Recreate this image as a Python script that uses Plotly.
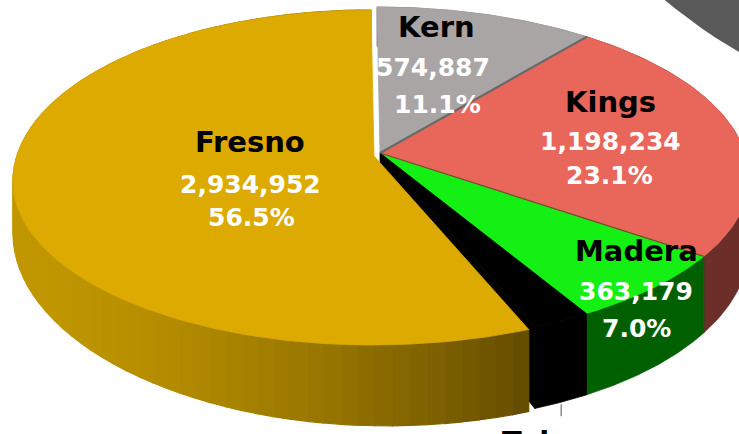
import numpy as np
import plotly.graph_objects as go

# ---------------- data ----------------
counties = ["Kern", "Kings", "Madera", "Tulare", "Fresno"]
populations = [574887, 1198234, 363179, 123000, 2934952]
value_labels = ["574,887", "1,198,234", "363,179", "123,000", "2,934,952"]
percent_labels = ["11.1%", "23.1%", "7.0%", "2.4%", "56.5%"]

# ---------------- style ----------------
top_colors = ["#A9A5A5", "#E8675A", "#14F014", "#000000", "#DCAA00"]
side_colors = ["#6E6C6C", "#6B2E29", "#006000", "#000000", None]
W, Hh = 739, 434
FONT = "DejaVu Sans"

# label centres (screen px) per county: name, value, percent
label_pos = {
    "Kern": [(436, 28), (433, 68), (437, 106)],
    "Kings": [(610, 103), (610, 142), (609, 177)],
    "Madera": [(636, 252), (636, 292), (636, 329)],
    "Fresno": [(250, 143), (250, 185), (251, 218)],
    "Tulare": [(552, 443)],
}
TEXT_SHIFT = 1

# ---------------- perspective pie geometry ----------------
CX, CY = 377.0, 178.0
RX_L, RX_R, RY_T, RY_B = 358.0, 372.0, 171.0, 164.0
VX, VY = 380.0, 153.0                          # projected centre of the pie
WA, WB = np.radians(6.6), np.radians(1.3)      # perspective warp of angles
EXPLODE = (-6.0, 3.0)                          # Fresno pulled out
PEAK = np.radians(160)

total = float(sum(populations))
fr = np.array(populations) / total
bounds = np.concatenate([[0.0], np.cumsum(fr)]) * 2 * np.pi  # clockwise from 12 o'clock


def rim(theta, off=(0.0, 0.0)):
    theta = np.asarray(theta, dtype=float)
    phi = theta - WA * np.sin(theta) - WB * np.sin(2 * theta)
    s, c = np.sin(phi), np.cos(phi)
    x = CX + np.where(s > 0, RX_R, RX_L) * s + off[0]
    y = CY - np.where(c > 0, RY_T, RY_B) * c + off[1]
    d = 60 + 22 * np.cos(phi - PEAK)
    return x, y, d


fig = go.Figure()


def poly(xs, ys, color, lw=0.8):
    xs = list(xs) + [xs[0]]
    ys = list(ys) + [ys[0]]
    fig.add_trace(go.Scatter(x=xs, y=ys, mode="lines", fill="toself",
                             fillcolor=color, line=dict(color=color, width=lw),
                             hoverinfo="skip", showlegend=False))


# decorative dark shape in the top-right corner
ang = np.linspace(0, 2 * np.pi, 200)
poly(1000 + 522 * np.cos(ang), -400 + 522 * np.sin(ang), "#595959", lw=0)


def wall(a, b, color, off=(0.0, 0.0), n=80):
    x, y, d = rim(np.linspace(a, b, n), off)
    xs = np.concatenate([x, x[::-1]])
    ys = np.concatenate([y, (y + d)[::-1]])
    poly(xs, ys, color)


# walls of the non-exploded slices
for i in range(4):
    wall(bounds[i], bounds[i + 1], side_colors[i])

# Tulare radial face exposed by the exploded Fresno slice
ex, ey, ed = rim(bounds[4])
poly([VX, ex, ex, VX], [VY, ey, ey + ed, VY + 60], "#000000")

# top faces of the non-exploded slices
for i in range(4):
    x, y, _ = rim(np.linspace(bounds[i], bounds[i + 1], 80))
    poly([VX] + list(x), [VY] + list(y), top_colors[i])

# edge lines between slices
for b, col, w in [(bounds[1], "#6A6A6A", 2.2), (bounds[2], "#8A3A32", 1.2)]:
    px, py, _ = rim(b)
    fig.add_trace(go.Scatter(x=[VX, px], y=[VY, py], mode="lines",
                             line=dict(color=col, width=w), hoverinfo="skip",
                             showlegend=False))

# exploded Fresno slice: shaded wall then top
nstrip = 80
ts = np.linspace(bounds[4], bounds[5], nstrip + 1)
for k in range(nstrip):
    x, y, d = rim(np.linspace(ts[k], ts[k + 1], 4), EXPLODE)
    t = np.clip(x.mean() / 530.0, 0, 1) ** 1.6
    r = 194 + (100 - 194) * t
    g = 152 + (76 - 152) * t
    col = "rgb(%d,%d,0)" % (r, g)
    poly(np.concatenate([x, x[::-1]]), np.concatenate([y, (y + d)[::-1]]), col, lw=1.2)

x, y, _ = rim(np.linspace(bounds[4], bounds[5], 240), EXPLODE)
poly([VX + EXPLODE[0]] + list(x), [VY + EXPLODE[1]] + list(y), top_colors[4])

# Tulare leader line
tx, ty, td = rim((bounds[3] + bounds[4]) / 2)
fig.add_trace(go.Scatter(x=[tx, tx], y=[ty + td + 2, ty + td + 14], mode="lines",
                         line=dict(color="#555555", width=1), hoverinfo="skip",
                         showlegend=False))

# ---------------- labels ----------------
ann = []
for i, name in enumerate(counties):
    pos = label_pos[name]
    texts = [name, value_labels[i], percent_labels[i]]
    for j, (lx, ly) in enumerate(pos):
        ann.append(dict(
            x=lx / W, y=1 - ly / Hh, xref="paper", yref="paper",
            text="<b>%s</b>" % texts[j], showarrow=False,
            xanchor="center", yanchor="middle", yshift=TEXT_SHIFT,
            font=dict(family=FONT, size=29 if j == 0 else 25,
                      color="#000000" if j == 0 else "#FFFFFF")))

fig.update_layout(
    width=W, height=Hh,
    margin=dict(l=0, r=0, t=0, b=0),
    paper_bgcolor="white", plot_bgcolor="white",
    xaxis=dict(range=[0, W], visible=False, fixedrange=True),
    yaxis=dict(range=[Hh, 0], visible=False, fixedrange=True),
    annotations=ann,
)

fig.write_html("out.html", config={"displayModeBar": False},
               post_script="document.body.style.margin='0';"
                           "document.body.style.overflow='hidden';")
